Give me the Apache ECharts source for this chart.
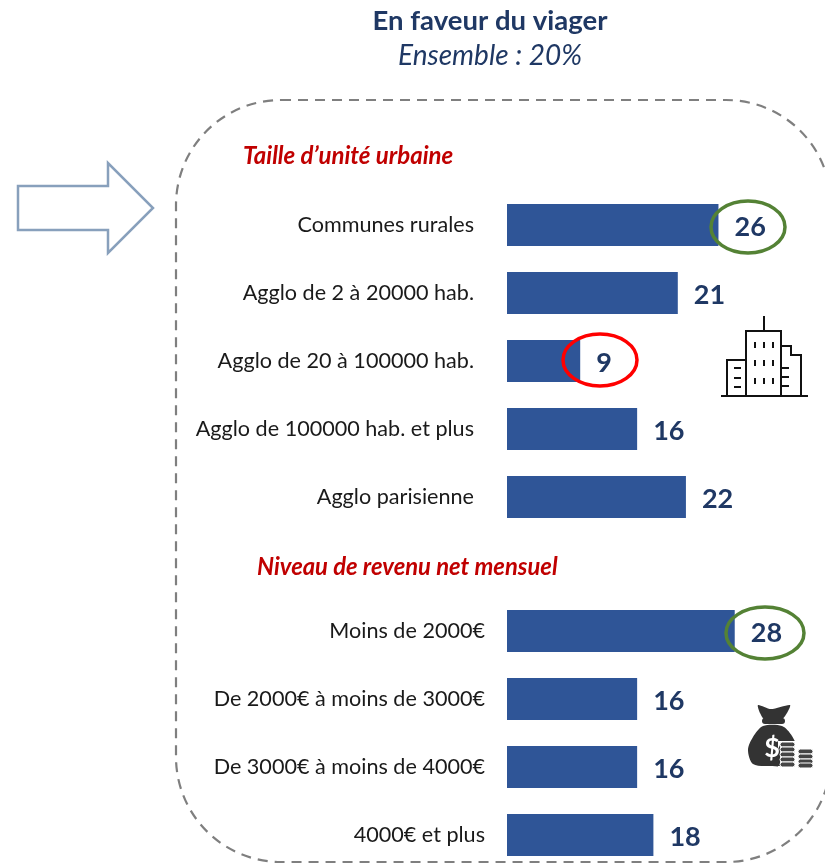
<!DOCTYPE html>
<html><head><meta charset="utf-8">
<style>html,body{margin:0;padding:0;background:#fff;overflow:hidden;height:863px}#c{width:825px;height:900px}</style>
<script src="https://cdn.jsdelivr.net/npm/echarts@6/dist/echarts.min.js"></script>
</head><body><div id="c"></div>
<script>
const titleText = "En faveur du viager";
const subtitleText = "Ensemble : 20%";
const groupTitleA = "Taille d’unité urbaine";
const groupTitleB = "Niveau de revenu net mensuel";
const categoriesA = ["Communes rurales","Agglo de 2 à 20000 hab.","Agglo de 20 à 100000 hab.","Agglo de 100000 hab. et plus","Agglo parisienne"];
const valuesA = [26,21,9,16,22];
const categoriesB = ["Moins de 2000€","De 2000€ à moins de 3000€","De 3000€ à moins de 4000€","4000€ et plus"];
const valuesB = [28,16,16,18];

const FONT = "Lato, 'Open Sans', sans-serif";
const NAVY = "#1F3864", BAR = "#2F5597", RED = "#C00000";
const chart = echarts.init(document.getElementById('c'), null, {renderer:'canvas'});

function xAxis(i){return {gridIndex:i,type:'value',min:0,max:30,show:false};}
function yAxis(i,cats,margin){return {gridIndex:i,type:'category',inverse:true,data:cats,
  axisLine:{show:false},axisTick:{show:false},
  axisLabel:{margin:margin,fontFamily:FONT,fontSize:21.6,color:'#1a1a1a'}};}
function series(i,vals){return {type:'bar',xAxisIndex:i,yAxisIndex:i,data:vals,barWidth:42,
  itemStyle:{color:BAR},silent:true,
  label:{show:true,position:'right',distance:16,offset:[0,2],fontFamily:FONT,fontWeight:'bold',fontSize:27,color:NAVY}};}

function text(x,y,t,font,fill,align){return {type:'text',z:10,x:x,y:y,style:{text:t,font:font,fill:fill,align:align||'center',verticalAlign:'middle'}};}
function ell(cx,cy,rx,ry,c){return {type:'ellipse',z:10,shape:{cx,cy,rx,ry},style:{fill:null,stroke:c,lineWidth:3.5}};}
function ln(a,b,c,d){return {type:'line',z:10,shape:{x1:a,y1:b,x2:c,y2:d},style:{stroke:'#111',lineWidth:2}};}
function rc(x,y,w,h){return {type:'rect',z:10,shape:{x,y,width:w,height:h},style:{fill:'#fff',stroke:'#111',lineWidth:2}};}

// building icon (decoration)
const building = [
  ln(721,396,808,396), ln(764,316,764,331),
  {type:'polyline',z:9,shape:{points:[[781,346],[791,346],[791,355],[801,355],[801,396]]},style:{fill:null,stroke:'#111',lineWidth:2}},
  rc(727,360,19,36), rc(746,331,35,65)
];
[368,378,387].forEach(y=>building.push(ln(734,y,741,y)));
[368,377,386].forEach(y=>building.push(ln(781,y,789,y)));
[345,363,381].forEach(y=>[755,764,773].forEach(x=>building.push(ln(x,y-3,x,y+3))));

// money bag icon (decoration)
function coin(x,y){return {type:'rect',z:11,shape:{x,y,width:15,height:5,r:2.5},style:{fill:'#444',stroke:'#fff',lineWidth:1}};}
const bag = [
  {type:'polygon',z:10,shape:{smooth:0.25,points:[[758,705],[771,709],[790,705],[787,713],[781,720],[765,720],[760,713]]},style:{fill:'#333'}},
  {type:'rect',z:10,shape:{x:762,y:718,width:23,height:6,r:3},style:{fill:'#333'}},
  {type:'polygon',z:10,shape:{smooth:0.3,points:[[763,726],[782,726],[792,736],[798,752],[790,765],[770,766],[753,764],[748,750],[753,737]]},style:{fill:'#333'}},
  {type:'rect',z:10,shape:{x:778,y:741,width:37,height:27},style:{fill:'#fff'}},
  {type:'polygon',z:10,shape:{points:[[770,766],[780,745],[780,766]]},style:{fill:'#333'}},
  text(772,748,"$","bold 27px "+FONT,'#fff'),
  coin(780,742),coin(780,747),coin(780,752),coin(780,757),coin(780,762),
  coin(798,749),coin(798,754),coin(798,759),coin(798,763)
];

chart.setOption({
  animation:false,
  backgroundColor:'#fff',
  grid:[{left:507,top:191,width:244,height:340},{left:507,top:597,width:244,height:272}],
  xAxis:[xAxis(0),xAxis(1)],
  yAxis:[yAxis(0,categoriesA,33),yAxis(1,categoriesB,22)],
  series:[series(0,valuesA),series(1,valuesB)],
  graphic:[
    text(490,21,titleText,"bold 27.5px "+FONT,NAVY),
    text(490,56,subtitleText,"italic 28px "+FONT,NAVY),
    text(243,156,groupTitleA,"italic bold 24px "+FONT,RED,'left'),
    text(257,567,groupTitleB,"italic bold 23.8px "+FONT,RED,'left'),
    {type:'rect',z:1,shape:{x:176,y:100,width:655,height:762,r:105},
      style:{fill:null,stroke:'#7f7f7f',lineWidth:2.2,lineDash:[10,7]}},
    {type:'polygon',z:5,shape:{points:[[18,186],[108,186],[108,163],[153,208],[108,253],[108,230],[18,230]]},
      style:{fill:'#fff',stroke:'#88A0BC',lineWidth:2.5}},
    ell(748,227,37,26,'#548235'),
    ell(600,360,37,26,'#FF0000'),
    ell(765,633,39,26,'#548235'),
    ...building, ...bag
  ]
});
</script></body></html>
